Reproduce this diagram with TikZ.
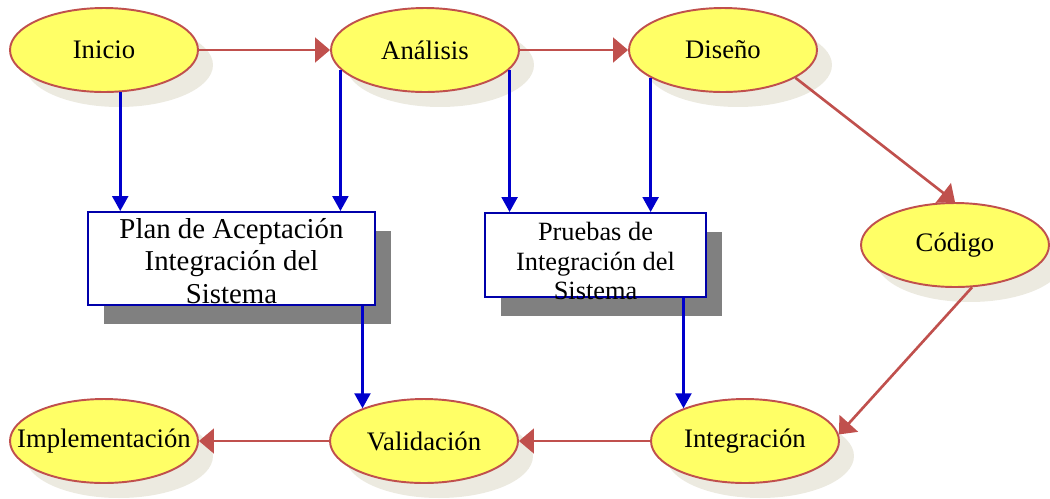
\documentclass[tikz,border=0pt]{standalone}
\usepackage{fontspec}
\setmainfont{Liberation Serif}
\usetikzlibrary{shapes.geometric,shadows,arrows.meta}

\definecolor{amarillo}{HTML}{FFFF66}
\definecolor{borde}{HTML}{C0504D}
\definecolor{sombra}{HTML}{ECEAE0}
\definecolor{azul}{HTML}{0000CC}
\definecolor{marco}{HTML}{0000AA}
\definecolor{gris}{HTML}{808080}

\begin{document}
\begin{tikzpicture}[x=0.02cm,y=-0.02cm,
  fase/.style={ellipse,draw=borde,line width=1.1pt,fill=amarillo,
    minimum width=3.76cm,minimum height=1.68cm,inner xsep=-1cm,inner ysep=0pt,
    font=\fontsize{15.2}{17}\selectfont,
    drop shadow={shadow xshift=0.3cm,shadow yshift=-0.3cm,fill=sombra,opacity=1}},
  caja/.style={rectangle,draw=marco,line width=1.1pt,fill=white,inner sep=0pt,
    drop shadow={shadow xshift=0.32cm,shadow yshift=-0.38cm,fill=gris,opacity=1}},
  flujo/.style={draw=borde,line width=1.5pt,-{Triangle[length=8.5pt,width=14pt]}},
  baja/.style={draw=azul,line width=1.5pt,-{Triangle[length=8.5pt,width=9pt]}}]

\useasboundingbox (0,0) rectangle (1050,498);

% fases
\node[fase] (inicio) at (104,50) {Inicio};
\node[fase] (analisis) at (425,50) {Análisis};
\node[fase] (diseno) at (723,50) {Diseño};
\node[fase] (codigo) at (955,245) {Código};
\node[fase] (integracion) at (745,441) {Integración};
\node[fase] (validacion) at (424,441) {Validación};
\node[fase] (implementacion) at (104,441) {Implementación};

% documentos
\node[caja,minimum width=5.74cm,minimum height=1.86cm] (plan) at (231.5,258.5) {};
\node[align=center,inner sep=0pt,font=\fontsize{16.4}{18.7}\selectfont]
  (plantxt) at ([yshift=-0.05cm]plan.center) {Plan de Aceptación\\Integración del\\Sistema};

\node[caja,minimum width=4.42cm,minimum height=1.68cm] (pruebas) at (595.5,255) {};
\node[align=center,inner sep=0pt,font=\fontsize{15}{17}\selectfont]
  (pruebastxt) at ([yshift=-0.12cm]pruebas.center) {Pruebas de\\Integración del\\Sistema};

\draw[baja] (inicio.-69) -- (inicio.-69 |- plan.north);
\draw[baja] (analisis.193) -- (analisis.193 |- plan.north);
\draw[baja] (analisis.-13) -- (analisis.-13 |- pruebas.north);
\draw[baja] (diseno.201) -- (diseno.201 |- pruebas.north);
\draw[baja] (validacion.152 |- plan.south) -- (validacion.152);
\draw[baja] (integracion.152 |- pruebas.south) -- (integracion.152);

\draw[flujo] (inicio) -- (analisis);
\draw[flujo] (analisis) -- (diseno);
\draw[flujo] (diseno.-21) -- (codigo.north);
\draw[flujo] (codigo.-68) -- (integracion.4);
\draw[flujo] (integracion) -- (validacion);
\draw[flujo] (validacion) -- (implementacion);

\end{tikzpicture}
\end{document}
